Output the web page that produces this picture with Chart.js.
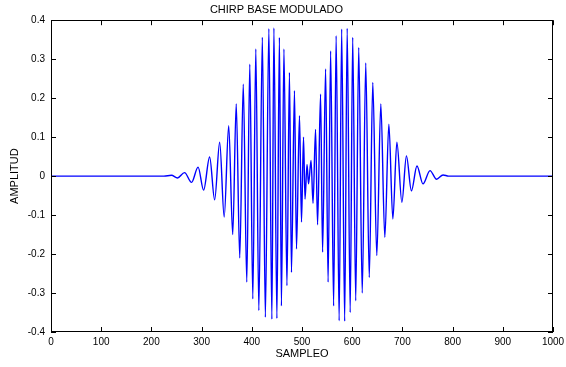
<!DOCTYPE html>
<html>
<head>
<meta charset="utf-8">
<script src="https://cdn.jsdelivr.net/npm/chart.js@4/dist/chart.umd.min.js"></script>
<style>
  html, body { margin: 0; padding: 0; background: #fff; }
  #wrap { width: 566px; height: 367px; position: relative; }
</style>
</head>
<body>
<div id="wrap"><canvas id="chirp"></canvas></div>
<script>
// extrema of the modulated chirp (sample index / amplitude)
const sampleIdx = [
    0, 225, 240, 252, 266, 280, 293, 304, 316, 326, 336, 345, 354, 362, 369, 376,
    383, 390, 396, 402, 408, 414, 421, 427, 434, 440, 444, 450, 455, 459, 464, 470,
    475, 479, 485, 489, 495, 499, 503, 506, 510, 513, 518, 522, 527, 531, 537, 541,
    547, 552, 557, 563, 568, 574, 579, 585, 590, 596, 601, 607, 613, 620, 627, 634,
    641, 649, 657, 665, 673, 681, 689, 699, 708, 718, 729, 741, 755, 768, 781, 792, 1000,
];
const amplitude = [
    0, 0, 0.002, -0.005, 0.009, -0.016, 0.023, -0.036, 0.049, -0.061, 0.087, -0.105, 0.129, -0.150, 0.185, -0.210,
    0.236, -0.272, 0.287, -0.315, 0.326, -0.345, 0.356, -0.362, 0.378, -0.367, 0.380, -0.365, 0.356, -0.333, 0.326, -0.281,
    0.266, -0.247, 0.219, -0.187, 0.155, -0.118, 0.100, -0.059, 0.030, -0.020, 0.040, -0.070, 0.120, -0.125, 0.210, -0.195,
    0.275, -0.272, 0.321, -0.333, 0.360, -0.371, 0.377, -0.372, 0.379, -0.350, 0.356, -0.320, 0.330, -0.300, 0.290, -0.260,
    0.240, -0.204, 0.185, -0.157, 0.133, -0.110, 0.087, -0.067, 0.052, -0.038, 0.026, -0.020, 0.014, -0.008, 0.003, 0, 0,
];
const xTickValues = [0, 100, 200, 300, 400, 500, 600, 700, 800, 900, 1000];
const yTickValues = [-0.4, -0.3, -0.2, -0.1, 0, 0.1, 0.2, 0.3, 0.4];

const FONT = 'Liberation Sans, Arial, Helvetica, sans-serif';

// MATLAB style: closed box with ticks pointing inwards on all four sides
const boxTicks = {
    id: 'boxTicks',
    afterDraw(chart) {
        const { ctx, chartArea: a, scales: { x, y } } = chart;
        const len = 5;
        ctx.save();
        ctx.strokeStyle = '#000';
        ctx.lineWidth = 1;
        ctx.strokeRect(Math.round(a.left) + 0.5, Math.round(a.top) + 0.5,
            Math.round(a.right - a.left) - 1, Math.round(a.bottom - a.top) - 1);
        ctx.beginPath();
        xTickValues.forEach((v) => {
            const px = Math.round(x.getPixelForValue(v)) + 0.5;
            ctx.moveTo(px, a.bottom); ctx.lineTo(px, a.bottom - len);
            ctx.moveTo(px, a.top); ctx.lineTo(px, a.top + len);
        });
        yTickValues.forEach((v) => {
            const py = Math.round(y.getPixelForValue(v)) + 0.5;
            ctx.moveTo(a.left, py); ctx.lineTo(a.left + len, py);
            ctx.moveTo(a.right, py); ctx.lineTo(a.right - len, py);
        });
        ctx.stroke();
        ctx.restore();
    },
};

new Chart(document.getElementById('chirp'), {
    type: 'line',
    data: {
        datasets: [{
            data: sampleIdx.map((s, i) => ({ x: s, y: amplitude[i] })),
            borderColor: '#0000ff',
            borderWidth: 1.4,
            pointRadius: 0,
            fill: false,
            cubicInterpolationMode: 'monotone',
        }],
    },
    options: {
        responsive: true,
        maintainAspectRatio: false,
        animation: false,
        layout: { padding: { left: 0, right: 13, top: 0, bottom: 0 } },
        plugins: {
            legend: { display: false },
            tooltip: { enabled: false },
            title: {
                display: true,
                text: 'CHIRP BASE MODULADO',
                color: '#000',
                font: { size: 11, family: FONT, weight: 'normal' },
                padding: { top: 3, bottom: 4 },
            },
        },
        scales: {
            x: {
                type: 'linear',
                min: 0,
                max: 1000,
                afterBuildTicks: (s) => { s.ticks = xTickValues.map((v) => ({ value: v })); },
                afterFit: (s) => { s.height = 35; s.paddingRight = 0; s.paddingLeft = 0; },
                grid: { display: false, drawTicks: false },
                border: { display: false },
                ticks: {
                    color: '#000', padding: 4, maxRotation: 0,
                    font: { size: 10, family: FONT },
                    callback: (v) => String(v),
                },
                title: {
                    display: true,
                    text: 'SAMPLEO',
                    color: '#000',
                    font: { size: 11, family: FONT },
                    padding: { top: 0, bottom: 6 },
                },
            },
            y: {
                min: -0.4,
                max: 0.4,
                afterBuildTicks: (s) => { s.ticks = yTickValues.map((v) => ({ value: v })); },
                afterFit: (s) => { s.width = 51; },
                grid: { display: false, drawTicks: false },
                border: { display: false },
                ticks: {
                    color: '#000', padding: 6,
                    font: { size: 10, family: FONT },
                    callback: (v) => String(Math.round(v * 10) / 10),
                },
                title: {
                    display: true,
                    text: 'AMPLITUD',
                    color: '#000',
                    font: { size: 11, family: FONT },
                    padding: { top: 8, bottom: 0 },
                },
            },
        },
    },
    plugins: [boxTicks],
});
</script>
</body>
</html>
